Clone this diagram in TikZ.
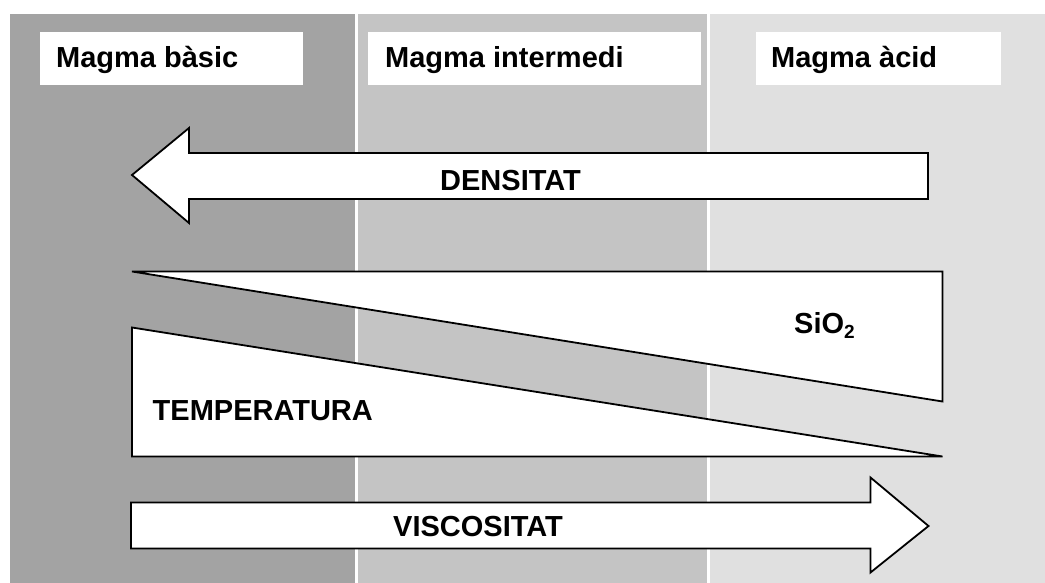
\documentclass[tikz,border=0pt]{standalone}
\usepackage{fontspec}
\setmainfont{Liberation Sans}
\begin{document}
\begin{tikzpicture}[x=1pt,y=-1pt,
  lbl/.style={anchor=base west,inner sep=0pt,font=\fontsize{29}{34}\selectfont\bfseries},
  hbox/.style={fill=white,draw=none,inner sep=0pt,anchor=north west,minimum height=53pt},
  shapeline/.style={draw=black,line width=1.8pt,fill=white,line join=miter}]
\definecolor{cA}{HTML}{A3A3A3}
\definecolor{cB}{HTML}{C4C4C4}
\definecolor{cC}{HTML}{E0E0E0}
\useasboundingbox (0,0) rectangle (1045,583);
\fill[white] (0,0) rectangle (1045,583);
% columns
\fill[cA] (10,14) rectangle (355,583);
\fill[cB] (358,14) rectangle (707,583);
\fill[cC] (710,14) rectangle (1045,583);
% header boxes
\node[hbox,minimum width=263pt] (b1) at (40,32) {};
\node[hbox,minimum width=333pt] (b2) at (368,32) {};
\node[hbox,minimum width=245pt] (b3) at (756,32) {};
\node[lbl] (t1) at (56,68) {Magma bàsic};
\node[lbl] (t2) at (385,68) {Magma intermedi};
\node[lbl] (t3) at (771,68) {Magma àcid};
% DENSITAT arrow
\draw[shapeline] (928,153) -- (189,153) -- (189,128) -- (132,175) -- (189,223) -- (189,199) -- (928,199) -- cycle;
\node[lbl] (dens) at (440,191) {DENSITAT};
% SiO2 wedge
\draw[shapeline] (132,271.5) -- (942.5,271.5) -- (942.5,401.5) -- cycle;
\node[lbl] (sio) at (794,333) {SiO\raisebox{-5pt}{\fontsize{19}{20}\selectfont 2}};
% Temperature wedge
\draw[shapeline] (132,327.5) -- (132,456.5) -- (942.5,456.5) -- cycle;
\node[lbl] (temp) at (152.5,420) {TEMPERATURA};
% VISCOSITAT arrow
\draw[shapeline] (131,502.5) -- (870.5,502.5) -- (870.5,477.5) -- (928.5,526) -- (870.5,572.5) -- (870.5,548.5) -- (131,548.5) -- cycle;
\node[lbl] (visc) at (393,536.5) {VISCOSITAT};
\end{tikzpicture}
\end{document}
